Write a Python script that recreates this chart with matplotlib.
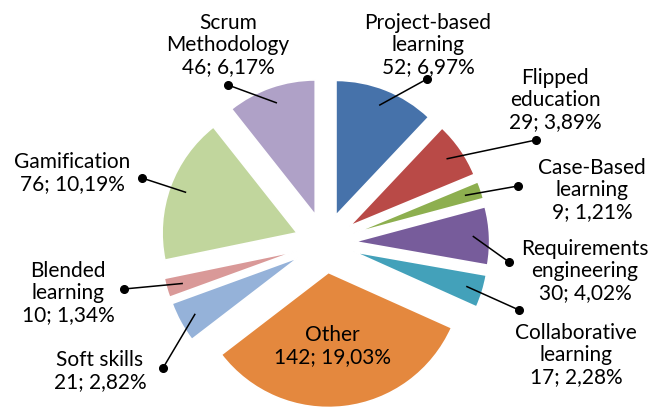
import numpy as np
import matplotlib
matplotlib.use("Agg")
import matplotlib.pyplot as plt

# --- DATA ---
labels = ["Project-based\nlearning", "Flipped\neducation", "Case-Based\nlearning",
          "Requirements\nengineering", "Collaborative\nlearning", "Other",
          "Soft skills", "Blended\nlearning", "Gamification", "Scrum\nMethodology"]
counts = [52, 29, 9, 30, 17, 142, 21, 10, 76, 46]
percents = ["6,97%", "3,89%", "1,21%", "4,02%", "2,28%", "19,03%",
            "2,82%", "1,34%", "10,19%", "6,17%"]
colors = ["#4672AA", "#B94A47", "#8DAF4F", "#775C9B", "#43A1BA", "#E4883E",
          "#95B2D9", "#D99998", "#C1D69D", "#AFA1C7"]

# --- LAYOUT (pixels in a 653x408 canvas) ---
W, H = 653, 408
CX, CY = 325, 243          # pie centre
R = 135                    # pie radius
EXPLODE = 0.22
label_px = [(428, 45), (555, 100), (592, 190), (585, 271), (576, 355),
            (332, 346), (100, 371), (68, 293), (72, 173), (228, 45)]
dot_px = [(427, 79), (536, 140), (518, 186), (509, 262), (519, 310),
          None, (163, 368), (124, 289), (142, 178), (228, 85)]


def to_data(p):
    return ((p[0] - CX) / R, (CY - p[1]) / R)


fig = plt.figure(figsize=(W / 100, H / 100), dpi=100)
ax = fig.add_axes([0, 0, 1, 1])

wedges, _ = ax.pie(counts, colors=colors, startangle=90, counterclock=False,
                   explode=[EXPLODE] * len(counts), radius=1.0,
                   wedgeprops=dict(edgecolor="white", linewidth=1.2))
# pie() resets the limits, so set them afterwards
ax.set_aspect("auto")
ax.set_xlim(-CX / R, (W - CX) / R)
ax.set_ylim(-(H - CY) / R, CY / R)
ax.axis("off")

for w, lab, n, pct, lp, dp in zip(wedges, labels, counts, percents, label_px, dot_px):
    text = f"{lab}\n{n}; {pct}"
    tx, ty = to_data(lp)
    ax.text(tx, ty, text, ha="center", va="center", multialignment="center",
            fontsize=15, family=["Lato", "DejaVu Sans"], linespacing=1.12, color="black")
    if dp is None:
        continue
    mid = np.deg2rad((w.theta1 + w.theta2) / 2)
    inner = EXPLODE + 0.88
    ix, iy = inner * np.cos(mid), inner * np.sin(mid)
    dx, dy = to_data(dp)
    ax.plot([ix, dx], [iy, dy], color="black", lw=1.1, zorder=5)
    ax.plot(dx, dy, "o", color="black", ms=5.5, zorder=6)

fig.savefig("out.png", dpi=100)
